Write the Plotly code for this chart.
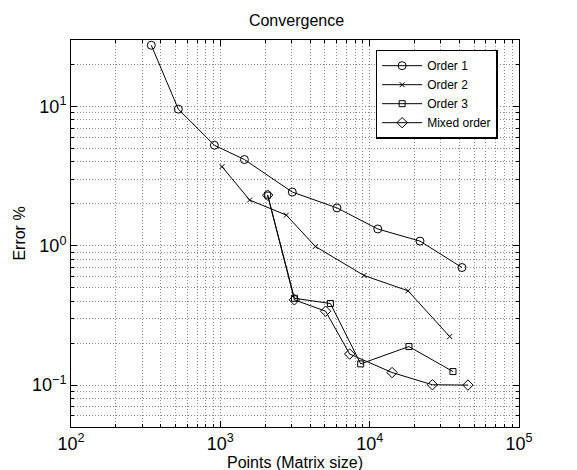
import plotly.graph_objects as go
import numpy as np

order1_x = [345, 523, 912, 1449, 3033, 6040, 11330, 21730, 41500]
order1_y = [27.5, 9.57, 5.27, 4.16, 2.43, 1.87, 1.32, 1.08, 0.698]

order2_x = [1026, 1571, 2767, 4326, 9163, 18070, 34340]
order2_y = [3.70, 2.13, 1.66, 0.989, 0.612, 0.475, 0.223]

order3_x = [2075, 3133, 5458, 8709, 18320, 36130]
order3_y = [2.31, 0.420, 0.385, 0.142, 0.189, 0.125]

mixed_x = [2075, 3133, 5070, 7345, 14130, 26300, 45500]
mixed_y = [2.31, 0.409, 0.339, 0.167, 0.123, 0.1005, 0.1]

x_tickvals = [1e2, 1e3, 1e4, 1e5]
x_ticktext = ["10<sup>2</sup>", "10<sup>3</sup>", "10<sup>4</sup>", "10<sup>5</sup>"]
y_tickvals = [0.1, 1, 10]
y_ticktext = ["10<sup>−1</sup>", "10<sup>0</sup>", "10<sup>1</sup>"]

x_minor = [m * 10**e for e in range(2, 5) for m in range(2, 10)]
y_minor = [m * 10**e for e in range(-2, 2) for m in range(2, 10)]

series = [
    ("Order 1", order1_x, order1_y, "circle-open", 8),
    ("Order 2", order2_x, order2_y, "x-thin-open", 5),
    ("Order 3", order3_x, order3_y, "square-open", 6),
    ("Mixed order", mixed_x, mixed_y, "diamond-open", 8),
]

fig = go.Figure()
for name, xs, ys, sym, sz in series:
    fig.add_trace(go.Scatter(
        x=xs, y=ys, name=name, mode="lines+markers",
        line=dict(color="black", width=1),
        marker=dict(symbol=sym, size=sz, color="black", line=dict(color="black", width=1)),
    ))

font = "Liberation Sans, Arial, Helvetica, sans-serif"
grid_color = "#8c8c8c"
grid_dash = "1px,2px"
axis_common = dict(
    type="log", showline=True, linecolor="black", linewidth=1, mirror="allticks",
    ticks="inside", ticklen=6, tickcolor="black",
    showgrid=True, gridcolor=grid_color, griddash=grid_dash, gridwidth=1,
    zeroline=False, tickfont=dict(size=18, color="black", family=font),
)

fig.update_xaxes(
    **axis_common,
    range=[2, 5], tickmode="array", tickvals=x_tickvals, ticktext=x_ticktext,
    minor=dict(tickmode="array", tickvals=x_minor, ticks="inside", ticklen=3,
               tickcolor="black", showgrid=True, gridcolor=grid_color, griddash=grid_dash),
    title=dict(text="Points (Matrix size)", font=dict(size=16, color="black", family=font), standoff=0),
)
fig.update_yaxes(
    **axis_common,
    range=[np.log10(0.05), np.log10(30)], tickmode="array", tickvals=y_tickvals, ticktext=y_ticktext,
    minor=dict(tickmode="array", tickvals=y_minor, ticks="inside", ticklen=3,
               tickcolor="black", showgrid=True, gridcolor=grid_color, griddash=grid_dash),
    title=dict(text="Error %", font=dict(size=16, color="black", family=font), standoff=2),
)

fig.update_layout(
    width=577, height=470,
    margin=dict(l=63, r=66, t=32, b=51),
    paper_bgcolor="white", plot_bgcolor="white",
    font=dict(family=font, color="black", size=13),
    title=dict(text="Convergence", x=0.5, xanchor="center", y=0.985, yanchor="top",
               font=dict(size=16, color="black", family=font)),
    legend=dict(x=0.68, y=0.975, xanchor="left", yanchor="top",
                bordercolor="black", borderwidth=1.5, bgcolor="white",
                font=dict(size=12, color="black", family=font),
                tracegroupgap=0, itemwidth=40),
    showlegend=True,
)

fig.write_html("out.html")
